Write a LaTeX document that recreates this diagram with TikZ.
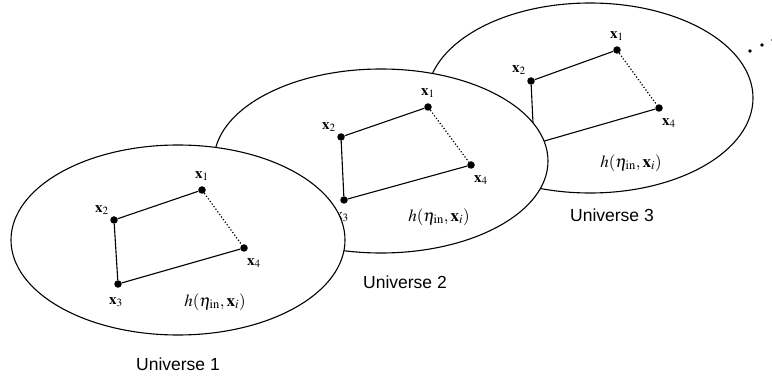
\documentclass[tikz,border=0pt]{standalone}
\usepackage{mathptmx}
\usepackage{fontspec}
\setmainfont{Liberation Serif}
\newfontfamily\unifont{Liberation Sans}
\begin{document}
\begin{tikzpicture}[x=1pt,y=-1pt,
  univ/.style={draw=black,fill=white,line width=1.1pt},
  pt/.style={circle,fill=black,inner sep=0pt,minimum size=7.5pt},
  edge/.style={line width=1.1pt},
  dotedge/.style={line width=1.2pt,dotted},
  lbl/.style={inner sep=0pt,font=\fontsize{15}{17}\selectfont},
  hlbl/.style={inner sep=0pt,font=\fontsize{17}{19}\selectfont},
  ulbl/.style={inner sep=0pt,font=\unifont\fontsize{17.5}{20}\selectfont},
  ell/.style={circle,fill=black,inner sep=0pt,minimum size=3.8pt}]
\useasboundingbox (0,0) rectangle (772,377);
% ---------- Universe 3 ----------
\draw[univ] (590,98) ellipse [x radius=163, y radius=95];
\node[pt] (c1) at (617,50) {};
\node[pt] (c2) at (531,81) {};
\node[pt] (c4) at (659,108) {};
\coordinate (c3) at (534,144);
\draw[edge] (c1) -- (c2) -- (c3) -- (c4);
\draw[dotedge] (c1) -- (c4);
\node[lbl] (lc1) at (617,36) {$\mathbf{x}_1$};
\node[lbl] (lc2) at (519,70) {$\mathbf{x}_2$};
\node[lbl] (lc4) at (669,123) {$\mathbf{x}_4$};
\node[hlbl] (hc) at (631,163) {$h(\eta_{\mathrm{in}},\mathbf{x}_i)$};
\node[ulbl] (u3) at (612,215) {Universe 3};
\node[ell] (d1) at (750,51) {};
\node[ell] (d2) at (762,45) {};
\node[ell] (d3) at (773,40) {};
% ---------- Universe 2 ----------
\draw[univ] (381,161) ellipse [x radius=167, y radius=92];
\node[pt] (b1) at (428,107) {};
\node[pt] (b2) at (341,137) {};
\node[pt] (b3) at (344,200) {};
\node[pt] (b4) at (471,165) {};
\draw[edge] (b1) -- (b2) -- (b3) -- (b4);
\draw[dotedge] (b1) -- (b4);
\node[lbl] (lb1) at (428,93) {$\mathbf{x}_1$};
\node[lbl] (lb2) at (329,127) {$\mathbf{x}_2$};
\node[lbl] (lb3) at (342,217) {$\mathbf{x}_3$};
\node[lbl] (lb4) at (481,180) {$\mathbf{x}_4$};
\node[hlbl] (hb) at (439,217) {$h(\eta_{\mathrm{in}},\mathbf{x}_i)$};
\node[ulbl] (u2) at (405,282) {Universe 2};
% ---------- Universe 1 ----------
\draw[univ] (178,240) ellipse [x radius=167, y radius=95];
\node[pt] (a1) at (202,190) {};
\node[pt] (a2) at (114,220) {};
\node[pt] (a3) at (118,284) {};
\node[pt] (a4) at (244,248) {};
\draw[edge] (a1) -- (a2) -- (a3) -- (a4);
\draw[dotedge] (a1) -- (a4);
\node[lbl] (la1) at (202,176) {$\mathbf{x}_1$};
\node[lbl] (la2) at (102,210) {$\mathbf{x}_2$};
\node[lbl] (la3) at (116,302) {$\mathbf{x}_3$};
\node[lbl] (la4) at (254,263) {$\mathbf{x}_4$};
\node[hlbl] (ha) at (215,302) {$h(\eta_{\mathrm{in}},\mathbf{x}_i)$};
\node[ulbl] (u1) at (178,364) {Universe 1};
\end{tikzpicture}
\end{document}
